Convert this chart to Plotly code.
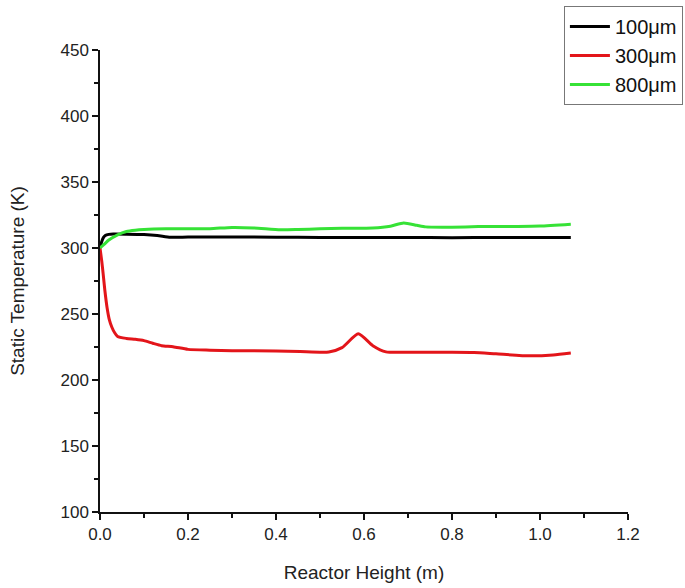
import plotly.graph_objects as go

# Data
x_100 = [0.0, 0.004, 0.008, 0.012, 0.02, 0.03, 0.06, 0.10, 0.13, 0.16, 0.2, 0.3, 0.4, 0.5, 0.6, 0.7, 0.8, 0.9, 1.0, 1.07]
t_100 = [300, 305, 308, 309.5, 310.3, 310.6, 310.5, 310.2, 309.5, 308.2, 308.3, 308.4, 308.2, 308.0, 308.0, 308.0, 307.8, 308.0, 308.0, 308.0]

x_300 = [0.0, 0.004, 0.007, 0.011, 0.016, 0.021, 0.027, 0.033, 0.04, 0.06, 0.08, 0.10, 0.12, 0.14, 0.166, 0.2, 0.25, 0.3, 0.4, 0.455, 0.52, 0.55, 0.587, 0.62, 0.65, 0.7, 0.8, 0.85, 0.9, 0.977, 1.03, 1.07]
t_300 = [300, 290, 281, 268, 255, 246, 240, 236, 233, 231.5, 230.8, 229.8, 227.8, 226, 225.2, 223.2, 222.6, 222.2, 222.0, 221.5, 221.2, 224.5, 235, 226, 221.3, 221.0, 221.0, 220.8, 219.8, 218.3, 219.0, 220.5]

x_800 = [0.0, 0.01, 0.02, 0.04, 0.06, 0.08, 0.1, 0.15, 0.2, 0.25, 0.3, 0.35, 0.41, 0.45, 0.5, 0.55, 0.62, 0.66, 0.69, 0.72, 0.74, 0.8, 0.86, 0.95, 1.0, 1.07]
t_800 = [300, 303, 306, 310, 312.5, 313.5, 314, 314.5, 314.5, 314.6, 315.6, 315.2, 313.8, 314, 314.5, 315, 315.2, 316.5, 319, 317.2, 316, 315.8, 316.2, 316.3, 316.6, 318]

x_ticks = [0.0, 0.2, 0.4, 0.6, 0.8, 1.0, 1.2]
y_ticks = [100, 150, 200, 250, 300, 350, 400, 450]

series = [
    ("100μm", x_100, t_100, "#000000"),
    ("300μm", x_300, t_300, "#e3151a"),
    ("800μm", x_800, t_800, "#36e236"),
]

fig = go.Figure()
for name, xs, ys, color in series:
    fig.add_trace(go.Scatter(
        x=xs, y=ys, name=name, mode="lines",
        line=dict(color=color, width=3, shape="spline", smoothing=0.6),
    ))

axis_font = dict(family="Liberation Sans, Arial, sans-serif", size=17, color="#222222")
title_font = dict(family="Liberation Sans, Arial, sans-serif", size=19, color="#222222")

fig.update_layout(
    width=685, height=588,
    margin=dict(l=100, r=57, t=50, b=76, autoexpand=False),
    paper_bgcolor="white", plot_bgcolor="white",
    showlegend=True,
    legend=dict(
        x=1.104, y=1.095, xanchor="right", yanchor="top",
        bordercolor="#777777", borderwidth=1, bgcolor="white",
        font=dict(family="Liberation Sans, Arial, sans-serif", size=20, color="#111111"),
        tracegroupgap=0, itemwidth=40,
    ),
    xaxis=dict(
        range=[0, 1.2], tickvals=x_ticks, ticktext=[f"{v:.1f}" for v in x_ticks],
        showgrid=False, zeroline=False, showline=True, linecolor="#111111", linewidth=1.5,
        ticks="outside", ticklen=6, tickwidth=1.5, tickcolor="#111111",
        minor=dict(dtick=0.1, ticks="outside", ticklen=4, tickwidth=1.5, tickcolor="#111111", showgrid=False),
        tickfont=axis_font, automargin=False,
        title=dict(text="Reactor Height (m)", font=title_font, standoff=23),
    ),
    yaxis=dict(
        range=[100, 450], tickvals=y_ticks,
        showgrid=False, zeroline=False, showline=True, linecolor="#111111", linewidth=1.5,
        ticks="outside", ticklen=6, tickwidth=1.5, tickcolor="#111111",
        minor=dict(dtick=25, ticks="outside", ticklen=4, tickwidth=1.5, tickcolor="#111111", showgrid=False),
        tickfont=axis_font, automargin=False,
        title=dict(text="Static Temperature (K)", font=title_font, standoff=31),
    ),
)

fig.write_html("out.html", config={"displayModeBar": False},
               post_script="document.body.style.margin='0';")
